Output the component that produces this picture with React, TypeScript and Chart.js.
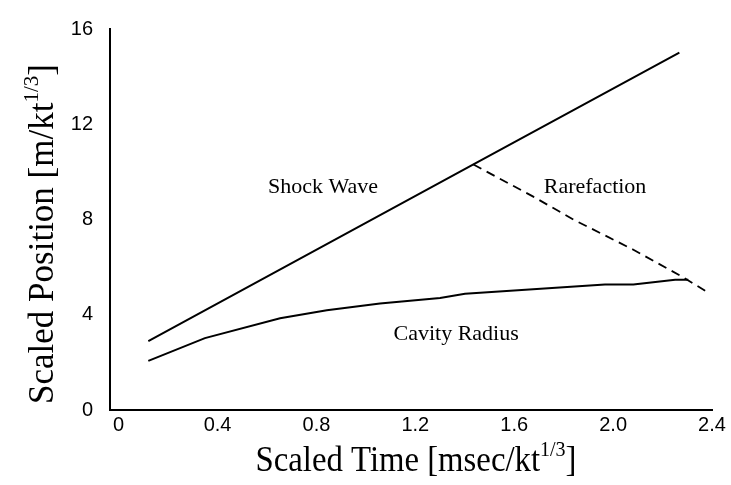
import React, { useEffect, useRef } from "react";
import { Chart, registerables } from "chart.js";

Chart.register(...registerables);

// ---- data ----
const shockX = [0.12, 1.435, 2.268];
const shockY = [2.89, 10.31, 15.01];

const rareX = [1.435, 1.677, 1.839, 2.082, 2.284, 2.392];
const rareY = [10.31, 8.96, 8.0, 6.73, 5.57, 4.88];

const cavX = [0.12, 0.349, 0.653, 0.842, 1.057, 1.3, 1.401, 1.967, 2.082, 2.251, 2.304];
const cavY = [2.06, 3.02, 3.85, 4.19, 4.47, 4.7, 4.88, 5.27, 5.27, 5.47, 5.47];

const xTicks = [0, 0.4, 0.8, 1.2, 1.6, 2.0, 2.4];
const yTicks = [0, 4, 8, 12, 16];

const seriesNames = ["Shock Wave", "Rarefaction", "Cavity Radius"];
const xTitleParts = ["Scaled Time [msec/kt", "1/3", "]"];
const yTitleParts = ["Scaled Position [m/kt", "1/3", "]"];

const toPts = (xs: number[], ys: number[]) => xs.map((x, i) => ({ x, y: ys[i] }));

const SERIF = "'Liberation Serif', 'Times New Roman', serif";
const SANS = "'Liberation Sans', Arial, sans-serif";

function drawSupText(ctx: CanvasRenderingContext2D, parts: string[], size: number) {
  const supSize = Math.round(size * 0.6);
  ctx.font = `${size}px ${SERIF}`;
  const w0 = ctx.measureText(parts[0]).width;
  const w2 = ctx.measureText(parts[2]).width;
  ctx.font = `${supSize}px ${SERIF}`;
  const w1 = ctx.measureText(parts[1]).width;
  const total = w0 + w1 + w2;
  let x = -total / 2;
  ctx.textAlign = "left";
  ctx.textBaseline = "alphabetic";
  const base = size * 0.33;
  ctx.font = `${size}px ${SERIF}`;
  ctx.fillText(parts[0], x, base);
  x += w0;
  ctx.font = `${supSize}px ${SERIF}`;
  ctx.fillText(parts[1], x, base - size * 0.42);
  x += w1;
  ctx.font = `${size}px ${SERIF}`;
  ctx.fillText(parts[2], x, base);
}

const textPlugin = {
  id: "textPlugin",
  afterDraw(chart: any) {
    const ctx: CanvasRenderingContext2D = chart.ctx;
    const xs = chart.scales.x;
    const ys = chart.scales.y;
    ctx.save();
    ctx.fillStyle = "#000";
    // annotations
    const ann = [
      { t: seriesNames[0], x: 0.827, y: 9.36 },
      { t: seriesNames[1], x: 1.927, y: 9.36 },
      { t: seriesNames[2], x: 1.365, y: 3.18 },
    ];
    ctx.font = `22px ${SERIF}`;
    ctx.textAlign = "center";
    ctx.textBaseline = "middle";
    ann.forEach((a) => {
      ctx.fillText(a.t, xs.getPixelForValue(a.x), ys.getPixelForValue(a.y));
    });
    // x title
    ctx.save();
    ctx.translate(416, 459);
    ctx.scale(0.91, 1);
    drawSupText(ctx, xTitleParts, 36);
    ctx.restore();
    // y title
    ctx.save();
    ctx.translate(41, 234);
    ctx.rotate(-Math.PI / 2);
    drawSupText(ctx, yTitleParts, 35);
    ctx.restore();
    ctx.restore();
  },
};

export default function App() {
  const ref = useRef<HTMLCanvasElement | null>(null);
  useEffect(() => {
    if (!ref.current) return;
    const line = {
      showLine: true,
      pointRadius: 0,
      borderColor: "#000",
      backgroundColor: "#000",
      borderWidth: 2,
      tension: 0,
      fill: false,
    };
    const chart = new Chart(ref.current, {
      type: "scatter",
      data: {
        datasets: [
          { ...line, label: seriesNames[0], data: toPts(shockX, shockY) },
          { ...line, label: seriesNames[1], data: toPts(rareX, rareY), borderDash: [9, 6], borderWidth: 1.8 },
          { ...line, label: seriesNames[2], data: toPts(cavX, cavY) },
        ],
      },
      options: {
        responsive: false,
        animation: false,
        layout: { padding: { top: 22, right: 19, left: 0, bottom: 0 } },
        plugins: { legend: { display: false }, tooltip: { enabled: false } },
        scales: {
          x: {
            type: "linear",
            min: -0.035,
            max: 2.4,
            afterBuildTicks: (s: any) => {
              s.ticks = xTicks.map((v) => ({ value: v }));
            },
            afterFit: (s: any) => {
              s.height = 75;
            },
            grid: { display: false, drawTicks: false },
            border: { display: true, color: "#000", width: 2 },
            ticks: {
              color: "#000",
              padding: 3,
              autoSkip: false,
              maxRotation: 0,
              font: { family: SANS, size: 20 },
              callback: (v: any) => (Number(v) === 0 ? "0" : Number(v).toFixed(1)),
            },
          },
          y: {
            type: "linear",
            min: 0,
            max: 16,
            afterBuildTicks: (s: any) => {
              s.ticks = yTicks.map((v) => ({ value: v }));
            },
            afterFit: (s: any) => {
              s.width = 110;
            },
            grid: { display: false, drawTicks: false },
            border: { display: true, color: "#000", width: 2 },
            ticks: {
              color: "#000",
              padding: 17,
              font: { family: SANS, size: 20 },
              callback: (v: any) => String(v),
            },
          },
        },
      },
      plugins: [textPlugin],
    } as any);
    return () => chart.destroy();
  }, []);
  return (
    <div style={{ position: "fixed", left: 0, top: 0, width: 731, height: 485, background: "#fff" }}>
      <canvas ref={ref} width={731} height={485} style={{ width: 731, height: 485 }} />
    </div>
  );
}
